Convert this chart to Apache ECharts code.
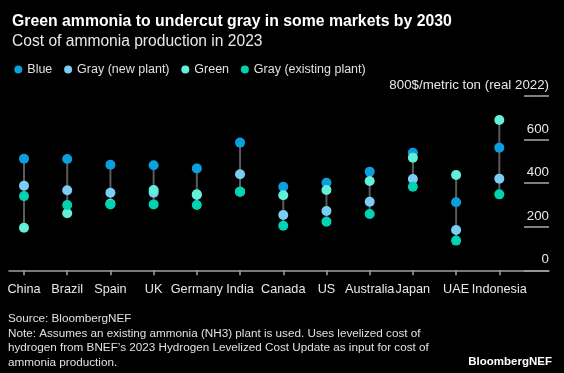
<!DOCTYPE html>
<html>
<head>
<meta charset="utf-8">
<script src="https://cdn.jsdelivr.net/npm/echarts@6/dist/echarts.min.js"></script>
<style>
html,body{margin:0;padding:0;background:#000;}
#c{width:564px;height:373px;}
</style>
</head>
<body>
<div id="c"></div>
<script>
const categories = ['China','Brazil','Spain','UK','Germany','India','Canada','US','Australia','Japan','UAE','Indonesia'];
const blue         = [511, 510, 484, 481, 467, 585, 383, 401, 452, 539, 312, 562];
const grayNew      = [387, 367, 355, 355, 345, 440, 253, 272, 314, 418, 185, 420];
const green        = [195, 261, 305, 368, 348, 360, 344, 368, 409, 516, 437, 689];
const grayExisting = [340, 299, 302, 302, 299, 360, 204, 223, 258, 383, 136, 348];
const yTicks = [0, 200, 400, 600, 800];
const unitLabel = '$/metric ton (real 2022)';

const font = 'Liberation Sans, Arial, sans-serif';
const idx = categories.map((c, i) => i);
const toPts = arr => arr.map((v, i) => [i, v]);
const ranges = idx.map(i => {
  const vals = [blue[i], grayNew[i], green[i], grayExisting[i]];
  return [i, Math.min.apply(null, vals), Math.max.apply(null, vals)];
});

const chart = echarts.init(document.getElementById('c'), null, {renderer: 'canvas'});
const sym = 10;
chart.setOption({
  backgroundColor: '#000',
  animation: false,
  textStyle: {fontFamily: font},
  title: [
    {text: 'Green ammonia to undercut gray in some markets by 2030', left: 7, top: 9,
     textStyle: {color: '#fff', fontSize: 15.8, fontWeight: 'bold', fontFamily: font}},
    {text: 'Cost of ammonia production in 2023', left: 7, top: 28.5,
     textStyle: {color: '#e8e8e8', fontSize: 15.6, fontWeight: 'normal', fontFamily: font}},
    {text: 'Source: BloombergNEF\nNote: Assumes an existing ammonia (NH3) plant is used. Uses levelized cost of\nhydrogen from BNEF\u2019s 2023 Hydrogen Levelized Cost Update as input for cost of\nammonia production.',
     left: 3, top: 307,
     textStyle: {color: '#e0e0e0', fontSize: 11.7, fontWeight: 'normal', lineHeight: 14.5, fontFamily: font}},
    {text: 'BloombergNEF', right: 7, top: 351,
     textStyle: {color: '#fff', fontSize: 11.5, fontWeight: 'bold', fontFamily: font}}
  ],
  legend: {
    left: 9.3, top: 58, icon: 'circle', itemWidth: 8, itemHeight: 8, itemGap: 11.8,
    textStyle: {color: '#e0e0e0', fontSize: 12.5, fontFamily: font},
    data: ['Blue', 'Gray (new plant)', 'Green', 'Gray (existing plant)']
  },
  grid: [
    {left: 9, right: 15, top: 95.7, bottom: 102.7},
    {left: 524, right: 15, top: 95.7, bottom: 102.7}
  ],
  xAxis: [
    {type: 'value', gridIndex: 0, min: -0.347, max: 12.15,
     axisLine: {show: true, lineStyle: {color: '#a0a0a0', width: 1.5}},
     axisTick: {show: true, customValues: idx, length: 5, lineStyle: {color: '#a0a0a0', width: 1.5}},
     axisLabel: {show: true, customValues: idx, color: '#e8e8e8', fontSize: 12.7, margin: 13,
       formatter: v => categories[Math.round(v)] || ''},
     splitLine: {show: false}},
    {type: 'value', gridIndex: 1, show: false, min: 0, max: 1}
  ],
  yAxis: [
    {type: 'value', gridIndex: 0, min: 0, max: 800, show: false},
    {type: 'value', gridIndex: 1, min: 0, max: 800, interval: 200, position: 'right',
     axisLine: {show: false}, axisTick: {show: false},
     splitLine: {show: true, lineStyle: {color: '#aaaaaa', width: 1.5}},
     axisLabel: {inside: true, margin: 0, color: '#e8e8e8', fontSize: 13.3, verticalAlign: 'bottom',
       padding: [0, 0, 4, 0], showMinLabel: true, showMaxLabel: true,
       formatter: v => v === yTicks[yTicks.length - 1] ? v + unitLabel : String(v)}}
  ],
  series: [
    {type: 'custom', xAxisIndex: 0, yAxisIndex: 0, z: 1, silent: true,
     data: ranges,
     renderItem: (params, api) => {
       const p1 = api.coord([api.value(0), api.value(1)]);
       const p2 = api.coord([api.value(0), api.value(2)]);
       return {type: 'line', shape: {x1: p1[0], y1: p1[1], x2: p2[0], y2: p2[1]},
               style: {stroke: '#5a5a5a', lineWidth: 2}};
     }},
    {name: 'Blue', type: 'scatter', symbolSize: sym, z: 2, data: toPts(blue), itemStyle: {color: '#0b9fdd', opacity: 1}},
    {name: 'Gray (new plant)', type: 'scatter', symbolSize: sym, z: 3, data: toPts(grayNew), itemStyle: {color: '#7ccdf4', opacity: 1}},
    {name: 'Green', type: 'scatter', symbolSize: sym, z: 4, data: toPts(green), itemStyle: {color: '#62f0d8', opacity: 1}},
    {name: 'Gray (existing plant)', type: 'scatter', symbolSize: sym, z: 5, data: toPts(grayExisting), itemStyle: {color: '#00d3b2', opacity: 1}}
  ]
});
</script>
</body>
</html>
